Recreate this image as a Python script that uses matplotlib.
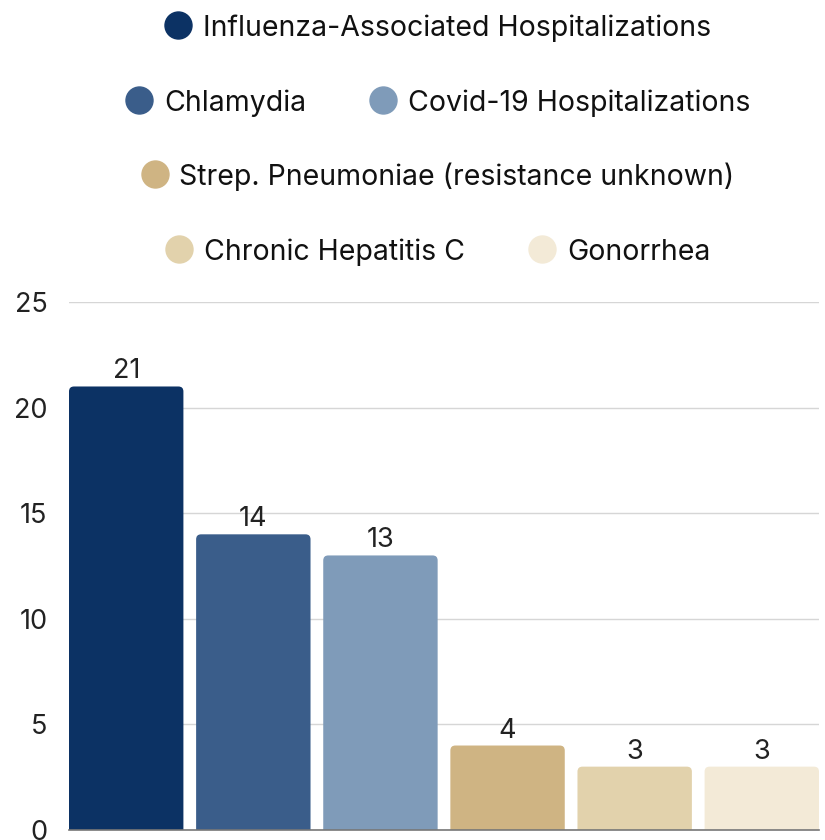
import matplotlib
matplotlib.use("Agg")
import matplotlib.pyplot as plt
from matplotlib.patches import FancyBboxPatch
from matplotlib.lines import Line2D

categories = ["Influenza-Associated Hospitalizations", "Chlamydia", "Covid-19 Hospitalizations",
              "Strep. Pneumoniae (resistance unknown)", "Chronic Hepatitis C", "Gonorrhea"]
values = [21, 14, 13, 4, 3, 3]
colors = ["#0c3264", "#3a5d8a", "#7f9bb9", "#cfb483", "#e2d2ac", "#f3ead7"]
yticks = [0, 5, 10, 15, 20, 25]
legend_rows = [[0], [1, 2], [3], [4, 5]]

plt.rcParams['font.family'] = ['Inter', 'DejaVu Sans']
FS = 19.5
LFS = 20.5

W, H = 825, 840
fig = plt.figure(figsize=(W / 100, H / 100), dpi=100)
ax = fig.add_axes([69 / W, 1 - 830 / H, 750 / W, 528 / H])

xmin, xmax = -0.45, 5.45
ymin, ymax = 0, 25
ax.set_xlim(xmin, xmax)
ax.set_ylim(ymin, ymax)

# pixel -> data scale, for rounded corners
px_x = (xmax - xmin) / 750
px_y = (ymax - ymin) / 528
r = 5  # corner radius in px
bw = 0.9
for i, v in enumerate(values):
    p = FancyBboxPatch((i - bw / 2, -r * px_y), bw, v + r * px_y,
                       boxstyle=f"round,pad=0,rounding_size={r * px_x}",
                       mutation_aspect=px_y / px_x,
                       facecolor=colors[i], edgecolor="none", zorder=3)
    ax.add_patch(p)
    ax.text(i, v + 8 * px_y, str(v), ha="center", va="baseline", fontsize=FS, color="#222222", zorder=4)

ax.set_yticks(yticks)
ax.set_xticks([])
ax.yaxis.grid(True, color="#d6d6d6", linewidth=1, zorder=0)
ax.tick_params(axis="y", length=0, labelsize=FS, pad=22, labelcolor="#222222")
for lbl in ax.get_yticklabels():
    lbl.set_horizontalalignment("right")
ax.yaxis.set_tick_params(pad=22)
for s in ["top", "right", "left"]:
    ax.spines[s].set_visible(False)
ax.spines["bottom"].set_color("#777777")
ax.spines["bottom"].set_linewidth(1.2)
ax.spines["bottom"].set_zorder(5)

# shift tick labels closer to the plot
import matplotlib.transforms as mtransforms
offset = mtransforms.ScaledTranslation(9 / 100, 0, fig.dpi_scale_trans)
for lbl in ax.get_yticklabels():
    lbl.set_transform(lbl.get_transform() + offset)

# manual legend, centred rows
fig.canvas.draw()
renderer = fig.canvas.get_renderer()
row_y = [25, 100, 174, 249]
cx = 438
dot_d = 27
dot_gap = 11
item_gap = 64
for row, yc in zip(legend_rows, row_y):
    widths = []
    for idx in row:
        t = fig.text(0, 0, categories[idx], fontsize=LFS)
        bb = t.get_window_extent(renderer)
        widths.append(bb.width)
        t.remove()
    items = [dot_d + dot_gap + w for w in widths]
    total = sum(items) + item_gap * (len(items) - 1)
    x = cx - total / 2
    for idx, w, iw in zip(row, widths, items):
        fig.add_artist(Line2D([(x + dot_d / 2) / W], [1 - yc / H], marker="o", markersize=dot_d * 0.72,
                              color=colors[idx], linestyle="none", transform=fig.transFigure))
        fig.text((x + dot_d + dot_gap) / W, 1 - yc / H, categories[idx], fontsize=LFS,
                 ha="left", va="center_baseline", color="#111111")
        x += iw + item_gap

fig.savefig("out.png", dpi=100)
